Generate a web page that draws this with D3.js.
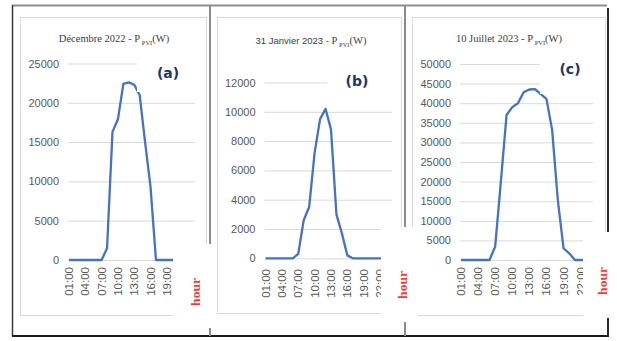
<!DOCTYPE html>
<html>
<head>
<meta charset="utf-8">
<script src="https://cdn.jsdelivr.net/npm/d3@7/dist/d3.min.js"></script>
<style>
  body { margin: 0; background: #fff; }
  svg { display: block; }
</style>
</head>
<body>
<div id="chart"></div>
<script>
// hourly categories (x axis)
const hours = ["01:00", "02:00", "03:00", "04:00", "05:00", "06:00", "07:00", "08:00",
               "09:00", "10:00", "11:00", "12:00", "13:00", "14:00", "15:00", "16:00",
               "17:00", "18:00", "19:00", "20:00", "21:00", "22:00", "23:00", "24:00"];
const hourTicks = ["01:00", "04:00", "07:00", "10:00", "13:00", "16:00", "19:00", "22:00"];

// P_PVI (W)
const decPower = [0, 0, 0, 0, 0, 0, 0, 1500, 16300, 17900, 22400, 22600, 22300, 21000,
                  15000, 9300, 0, 0, 0, 0, 0, 0, 0, 0];
const janPower = [0, 0, 0, 0, 0, 0, 300, 2600, 3500, 7200, 9500, 10200, 8800, 3000,
                  1700, 200, 0, 0, 0, 0, 0, 0, 0, 0];
const julPower = [0, 0, 0, 0, 0, 0, 3400, 20000, 37000, 39000, 40000, 42800, 43500, 43600,
                  42300, 41100, 33200, 15300, 3000, 1700, 0, 0, 0, 0];

const decTicks = [0, 5000, 10000, 15000, 20000, 25000];
const janTicks = [0, 2000, 4000, 6000, 8000, 10000, 12000];
const julTicks = [0, 5000, 10000, 15000, 20000, 25000, 30000, 35000, 40000, 45000, 50000];

const titleDates = ["Décembre 2022 - ", "31 Janvier 2023 - ", "10 Juillet 2023 -  "];
const tags = ["(a)", "(b)", "(c)"];

const width = 617;
const height = 341;

const svg = d3.select("#chart").append("svg")
  .attr("width", width)
  .attr("height", height);

// panel layout (pixels)
const panels = [
  { values: decPower, ticks: decTicks, title: titleDates[0], tag: tags[0], serif: true,
    x0: 69, x1: 194, yBase: 260, yTop: 63.5,
    frame: [20, 17, 206, 315], titleX: 114, titleY: 42,
    tagBox: [137, 52, 62, 40], tagX: 168, tagY: 78,
    hourBox: [173, 244, 41, 84], hourX: 195, hourY: 292, labelTop: 267 },
  { values: janPower, ticks: janTicks, title: titleDates[1], tag: tags[1], serif: false,
    x0: 265.5, x1: 391, yBase: 258.3, yTop: 82.5,
    frame: [217, 17, 401, 313], titleX: 311, titleY: 44,
    tagBox: [327, 68, 68, 32], tagX: 357, tagY: 86,
    hourBox: [381, 227, 37, 95], hourX: 402, hourY: 285, labelTop: 269 },
  { values: julPower, ticks: julTicks, title: titleDates[2], tag: tags[2], serif: true,
    x0: 461, x1: 592, yBase: 260, yTop: 64,
    frame: [412, 17, 605, 315], titleX: 509, titleY: 42,
    tagBox: [540, 52, 56, 42], tagX: 570, tagY: 74,
    hourBox: [583, 232, 34, 86], hourX: 602.5, hourY: 281, labelTop: 267 }
];

// table frame
const frame = svg.append("g");
frame.append("line").attr("x1", 12).attr("x2", 607).attr("y1", 5.5).attr("y2", 5.5)
  .attr("stroke", "#8c8c8c").attr("stroke-width", 2);
frame.append("line").attr("x1", 12.5).attr("x2", 12.5).attr("y1", 5).attr("y2", 336)
  .attr("stroke", "#3a3a3a").attr("stroke-width", 1.5);
frame.append("line").attr("x1", 12).attr("x2", 609).attr("y1", 336).attr("y2", 336)
  .attr("stroke", "#1a1a1a").attr("stroke-width", 2);
frame.append("line").attr("x1", 608).attr("x2", 608).attr("y1", 8).attr("y2", 336)
  .attr("stroke", "#2a2a2a").attr("stroke-width", 2);
[210, 405].forEach(x => {
  frame.append("line").attr("x1", x).attr("x2", x).attr("y1", 5).attr("y2", 336)
    .attr("stroke", "#8c8c8c").attr("stroke-width", 2);
});

panels.forEach(p => {
  const g = svg.append("g");
  const [fx0, fy0, fx1, fy1] = p.frame;

  g.append("rect")
    .attr("x", fx0 + 0.5).attr("y", fy0 + 0.5)
    .attr("width", fx1 - fx0).attr("height", fy1 - fy0)
    .attr("fill", "#fff")
    .attr("stroke", "#d9d9d9");

  const x = d3.scalePoint().domain(hours).range([p.x0, p.x1]);
  const yMax = p.ticks[p.ticks.length - 1];
  const y = d3.scaleLinear().domain([0, yMax]).range([p.yBase, p.yTop]);

  // gridlines + value labels
  const yAxis = g.append("g")
    .attr("transform", `translate(${p.x0 - 1},0)`)
    .call(d3.axisLeft(y).tickValues(p.ticks).tickSize(-(p.x1 - p.x0 + 2)).tickPadding(9)
      .tickFormat(d3.format("d")));
  yAxis.select(".domain").remove();
  yAxis.selectAll(".tick line").attr("stroke", "#d9d9d9");
  yAxis.selectAll(".tick text")
    .attr("fill", "#595959")
    .attr("font-family", "Liberation Sans, Arial, sans-serif")
    .attr("font-size", "11px");

  // hour labels, rotated
  g.append("g").selectAll("text")
    .data(hourTicks)
    .join("text")
    .attr("transform", d => `translate(${x(d)},${p.labelTop}) rotate(-90)`)
    .attr("text-anchor", "end")
    .attr("dy", "0.35em")
    .attr("fill", "#595959")
    .attr("font-family", "Liberation Sans, Arial, sans-serif")
    .attr("font-size", "11.5px")
    .text(d => d);

  // power curve
  const line = d3.line()
    .x((d, i) => x(hours[i]))
    .y(d => y(d));
  g.append("path")
    .datum(p.values)
    .attr("d", line)
    .attr("fill", "none")
    .attr("stroke", "#4472c4")
    .attr("stroke-width", 2.3)
    .attr("stroke-linejoin", "round");

  // title
  const title = g.append("text")
    .attr("x", p.titleX).attr("y", p.titleY)
    .attr("text-anchor", "middle")
    .attr("fill", "#404040")
    .attr("font-size", "10.5px")
    .attr("font-family", "Liberation Serif, Times New Roman, serif");
  title.append("tspan")
    .attr("font-family", p.serif ? "Liberation Serif, serif" : "Liberation Sans, sans-serif")
    .attr("font-size", p.serif ? "10.5px" : "9.5px")
    .text(p.title);
  title.append("tspan").text("P");
  title.append("tspan").attr("font-size", "6.5px").attr("dy", 2.5).text(" PVI");
  title.append("tspan").attr("dy", -2.5).text("(W)");

  // panel tag on white box
  const [bx, by, bw, bh] = p.tagBox;
  g.append("rect").attr("x", bx).attr("y", by).attr("width", bw).attr("height", bh)
    .attr("fill", "#fff");
  g.append("text")
    .attr("x", p.tagX).attr("y", p.tagY)
    .attr("text-anchor", "middle")
    .attr("fill", "#22366a")
    .attr("font-family", "DejaVu Sans, sans-serif")
    .attr("font-weight", "bold")
    .attr("font-size", "14px")
    .text(p.tag);
});

// "hour" boxes pasted over the bottom right corners
panels.forEach(p => {
  const [hx, hy, hw, hh] = p.hourBox;
  svg.append("rect").attr("x", hx).attr("y", hy).attr("width", hw).attr("height", hh)
    .attr("fill", "#fff");
  svg.append("text")
    .attr("transform", `translate(${p.hourX},${p.hourY}) rotate(-90)`)
    .attr("text-anchor", "middle")
    .attr("dy", "0.35em")
    .attr("fill", "#ff3535")
    .attr("font-family", "Liberation Serif, serif")
    .attr("font-weight", "bold")
    .attr("font-size", "13.5px")
    .text("hour");
});
</script>
</body>
</html>
